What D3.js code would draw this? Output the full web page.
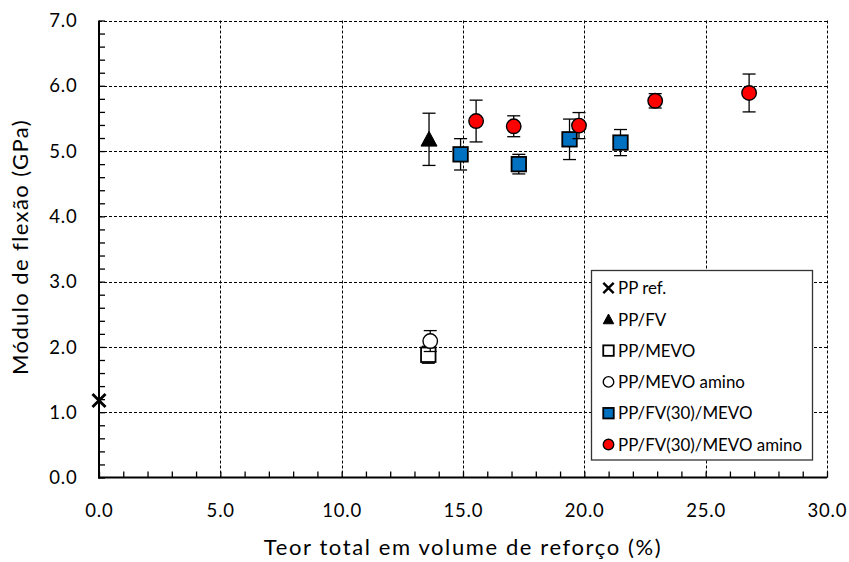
<!DOCTYPE html>
<html><head><meta charset="utf-8">
<script src="https://cdn.jsdelivr.net/npm/d3@7"></script>
<style>body{margin:0;background:#fff}svg{display:block}</style>
</head><body>
<svg id="c" width="849" height="562"></svg>
<script>
// ---- data ----
const ppRefX = [0.0], ppRefY = [1.18], ppRefErr = [0];
const ppFvX = [13.6], ppFvY = [5.18], ppFvErr = [0.40];
const ppMevoX = [13.57], ppMevoY = [1.88], ppMevoErr = [0.13];
const ppMevoAminoX = [13.65], ppMevoAminoY = [2.09], ppMevoAminoErr = [0.16];
const ppFv30MevoX = [14.9, 17.3, 19.39, 21.49], ppFv30MevoY = [4.95, 4.80, 5.18, 5.13], ppFv30MevoErr = [0.24, 0.15, 0.31, 0.20];
const ppFv30AminoX = [15.54, 17.09, 19.78, 22.92, 26.79], ppFv30AminoY = [5.46, 5.38, 5.39, 5.77, 5.89], ppFv30AminoErr = [0.32, 0.16, 0.20, 0.11, 0.29];
const xTicks = [0, 5, 10, 15, 20, 25, 30];
const yTicks = [0, 1, 2, 3, 4, 5, 6, 7];
const seriesNames = ["PP ref.", "PP/FV", "PP/MEVO", "PP/MEVO amino", "PP/FV(30)/MEVO", "PP/FV(30)/MEVO amino"];
const xTitle = "Teor total em volume de reforço (%)";
const yTitle = "Módulo de flexão (GPa)";

const series = [
  {name: seriesNames[0], x: ppRefX, y: ppRefY, e: ppRefErr, shape: "x", fill: "none"},
  {name: seriesNames[1], x: ppFvX, y: ppFvY, e: ppFvErr, shape: "tri", fill: "#000"},
  {name: seriesNames[2], x: ppMevoX, y: ppMevoY, e: ppMevoErr, shape: "sq", fill: "#fff"},
  {name: seriesNames[3], x: ppMevoAminoX, y: ppMevoAminoY, e: ppMevoAminoErr, shape: "circ", fill: "#fff"},
  {name: seriesNames[4], x: ppFv30MevoX, y: ppFv30MevoY, e: ppFv30MevoErr, shape: "sq", fill: "#0070c0"},
  {name: seriesNames[5], x: ppFv30AminoX, y: ppFv30AminoY, e: ppFv30AminoErr, shape: "circ", fill: "#ff0000"}
];

const svg = d3.select("#c");
const L = 99, R = 827, T = 20.5, B = 477.5;
const x = d3.scaleLinear().domain([0, 30]).range([L, R]);
const y = d3.scaleLinear().domain([0, 7]).range([B, T]);
const FONT = "Lato, 'Open Sans', sans-serif";

// gridlines
const grid = svg.append("g").attr("stroke", "#000").attr("stroke-width", 1).attr("stroke-dasharray", "3,2");
grid.selectAll(".gx").data(xTicks.filter(d => d > 0)).join("line")
  .attr("x1", d => Math.round(x(d)) + 0.5).attr("x2", d => Math.round(x(d)) + 0.5)
  .attr("y1", T).attr("y2", B);
grid.selectAll(".gy").data(yTicks.filter(d => d > 0)).join("line")
  .attr("y1", d => Math.round(y(d)) + 0.5).attr("y2", d => Math.round(y(d)) + 0.5)
  .attr("x1", L).attr("x2", R);

// axes (minor ticks inward)
const xAxis = d3.axisBottom(x).tickValues(d3.range(0, 30.01, 1)).tickSize(-6).tickFormat("");
const yAxis = d3.axisLeft(y).tickValues(d3.range(0, 7.01, 0.2)).tickSize(-6).tickFormat("");
const gx = svg.append("g").attr("transform", `translate(0,${B})`).call(xAxis);
const gy = svg.append("g").attr("transform", `translate(${L},0)`).call(yAxis);
[gx, gy].forEach(g => {
  g.select(".domain").attr("stroke", "#000").attr("stroke-width", 2);
  g.selectAll(".tick line").attr("stroke", "#000").attr("stroke-width", 1.3);
});
gx.select(".domain").attr("d", `M${L - 1},0H${R}`);
gy.select(".domain").attr("d", `M0,${T}V${B + 1}`);

// tick labels
const fmt = d3.format(".1f");
svg.append("g").selectAll("text").data(xTicks).join("text")
  .attr("x", d => x(d) + 0.4).attr("y", 517).attr("text-anchor", "middle")
  .attr("font-family", FONT).attr("font-size", 18.5).attr("letter-spacing", 0.8)
  .attr("fill", "#000").text(fmt);
svg.append("g").selectAll("text").data(yTicks).join("text")
  .attr("x", 77.5).attr("y", d => y(d) + 6.6).attr("text-anchor", "end")
  .attr("font-family", FONT).attr("font-size", 18.5).attr("letter-spacing", 0.8)
  .attr("fill", "#000").text(fmt);

// titles
svg.append("text").attr("x", 463).attr("y", 555).attr("text-anchor", "middle")
  .attr("font-family", FONT).attr("font-size", 22).attr("letter-spacing", 1.6)
  .attr("fill", "#000").text(xTitle);
svg.append("text").attr("transform", `translate(28,247) rotate(-90)`).attr("text-anchor", "middle")
  .attr("font-family", FONT).attr("font-size", 22).attr("letter-spacing", 1.4)
  .attr("fill", "#000").text(yTitle);

// marker drawing
function marker(g, shape, fill, size) {
  if (shape === "x") {
    const s = size * 0.45;
    g.append("path").attr("d", `M${-s},${-s}L${s},${s}M${-s},${s}L${s},${-s}`)
      .attr("stroke", "#000").attr("stroke-width", size > 12 ? 2.8 : 2.4).attr("fill", "none");
  } else if (shape === "tri") {
    const s = size / 2;
    g.append("path").attr("d", `M0,${-s * 1.0}L${s},${s * 0.85}L${-s},${s * 0.85}Z`)
      .attr("fill", fill).attr("stroke", "#000").attr("stroke-width", 1);
  } else if (shape === "sq") {
    const s = size / 2;
    g.append("rect").attr("x", -s).attr("y", -s).attr("width", size).attr("height", size)
      .attr("fill", fill).attr("stroke", "#000").attr("stroke-width", 1.8);
  } else if (shape === "circ") {
    g.append("circle").attr("r", size / 2).attr("fill", fill).attr("stroke", "#000").attr("stroke-width", 1.4);
  }
}

// error bars + points
const pts = svg.append("g");
series.forEach(s => {
  s.x.forEach((xv, i) => {
    const cx = x(xv), cy = y(s.y[i]), e = s.e[i];
    if (e > 0) {
      const eb = pts.append("g").attr("stroke", "#000").attr("stroke-width", 1.3);
      eb.append("line").attr("x1", cx).attr("x2", cx).attr("y1", y(s.y[i] + e)).attr("y2", y(s.y[i] - e));
      [s.y[i] + e, s.y[i] - e].forEach(v => eb.append("line")
        .attr("x1", cx - 6.5).attr("x2", cx + 6.5).attr("y1", y(v)).attr("y2", y(v)));
    }
    const g = pts.append("g").attr("transform", `translate(${cx},${cy})`);
    const sz = s.shape === "tri" ? 16 : 14.5;
    marker(g, s.shape, s.fill, sz);
  });
});

// legend
const lg = svg.append("g");
lg.append("rect").attr("x", 591.5).attr("y", 270.5).attr("width", 221).attr("height", 189.5)
  .attr("fill", "#fff").attr("stroke", "#333").attr("stroke-width", 1.3);
series.forEach((s, i) => {
  const yy = 288 + i * 31.3;
  const g = lg.append("g").attr("transform", `translate(608.5,${yy})`);
  marker(g, s.shape, s.fill, s.shape === "x" ? 11.5 : 10.5);
  lg.append("text").attr("x", 618).attr("y", yy + 6.2).attr("font-family", FONT)
    .attr("font-size", 16.9).attr("fill", "#000").text(s.name);
});
</script>
</body></html>
